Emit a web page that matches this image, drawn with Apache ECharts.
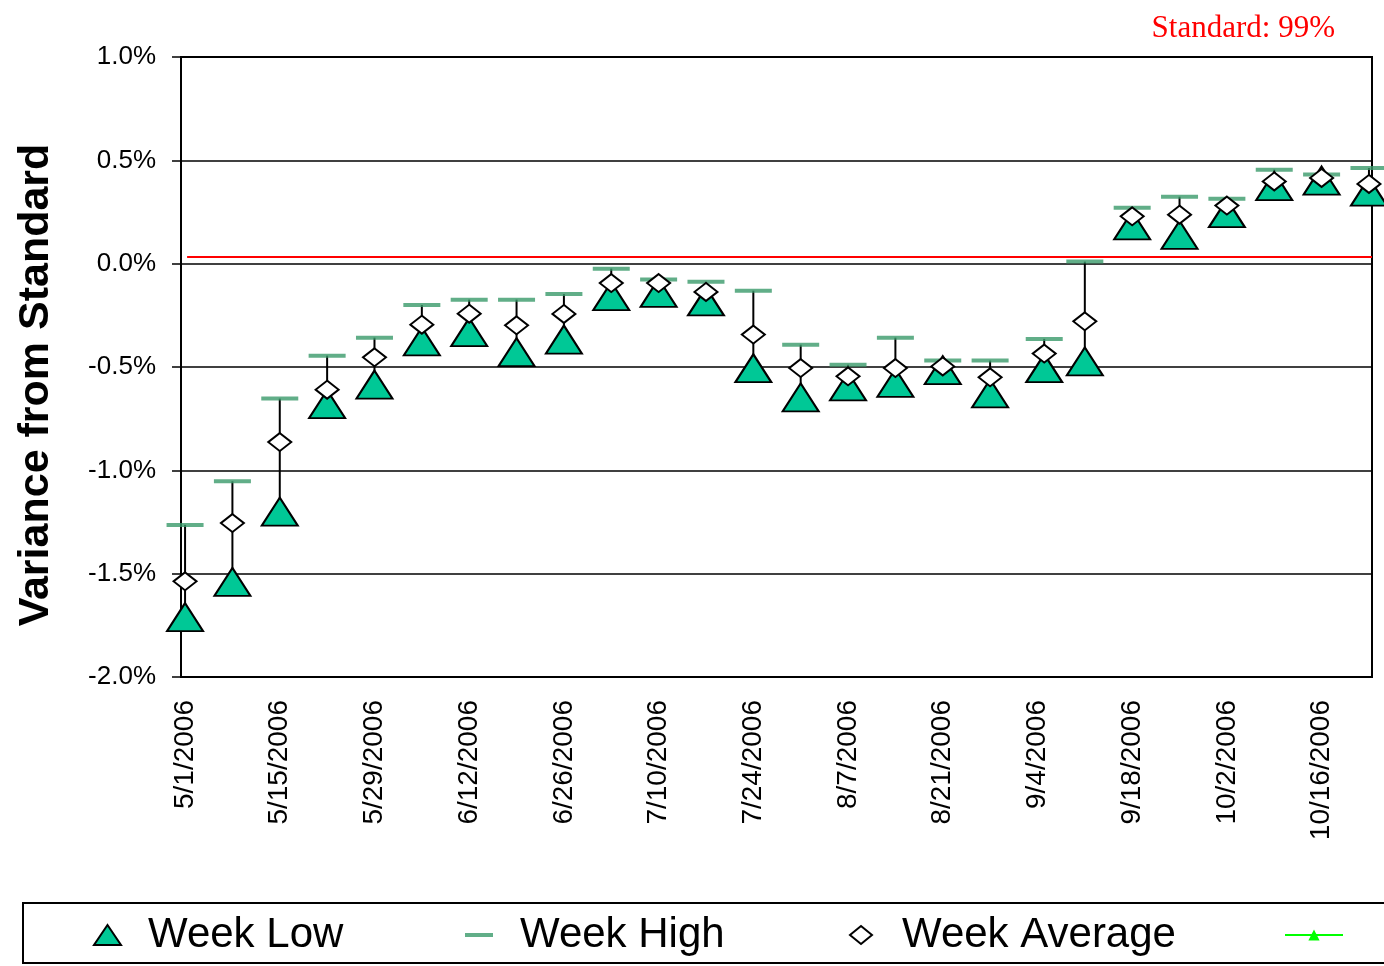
<!DOCTYPE html>
<html>
<head>
<meta charset="utf-8">
<script src="https://cdn.jsdelivr.net/npm/echarts@6/dist/echarts.min.js"></script>
<style>
  html, body { margin: 0; padding: 0; background: #fff; }
  #chart { width: 1384px; height: 966px; }
</style>
</head>
<body>
<div id="chart"></div>
<script>
// days since 5/1/2006 for each weekly reading
const days = [0, 7, 14, 21, 28, 35, 42, 49, 56, 63, 70, 77, 84, 91, 98, 105, 112, 119, 127, 133, 140, 147, 154, 161, 168, 175];
// values in percent
const weekLow = [-1.71, -1.54, -1.20, -0.68, -0.585, -0.376, -0.331, -0.428, -0.367, -0.157, -0.141, -0.183, -0.506,
  -0.647, -0.594, -0.577, -0.515, -0.628, -0.506, -0.473, 0.185, 0.139, 0.244, 0.375, 0.402, 0.349];
const weekHigh = [-1.264, -1.053, -0.653, -0.445, -0.358, -0.200, -0.174, -0.174, -0.147, -0.024, -0.077, -0.087, -0.131,
  -0.392, -0.489, -0.358, -0.469, -0.469, -0.364, 0.010, 0.271, 0.324, 0.314, 0.455, 0.431, 0.463];
const weekAvg = [-1.537, -1.255, -0.863, -0.610, -0.453, -0.295, -0.242, -0.298, -0.243, -0.094, -0.094, -0.137, -0.343,
  -0.505, -0.545, -0.505, -0.497, -0.550, -0.435, -0.279, 0.229, 0.237, 0.281, 0.398, 0.415, 0.386];
const standardLevel = 0.035;
// x tick labels
const tickDays = [0, 14, 28, 42, 56, 70, 84, 98, 112, 126, 140, 154, 168];
const tickLabels = ['5/1/2006', '5/15/2006', '5/29/2006', '6/12/2006', '6/26/2006', '7/10/2006', '7/24/2006',
  '8/7/2006', '8/21/2006', '9/4/2006', '9/18/2006', '10/2/2006', '10/16/2006'];

const sans = 'Liberation Sans, Arial, sans-serif';
const lowColor = '#00c896';
const highColor = '#3a9a6a';

const chart = echarts.init(document.getElementById('chart'));

const legendText = { fontFamily: sans, fontSize: 42, color: '#000' };

chart.setOption({
  animation: false,
  title: {
    text: 'Standard: 99%',
    right: 44,
    top: 8,
    textStyle: { fontFamily: 'Liberation Serif, Times New Roman, serif', fontSize: 31, fontWeight: 'normal', color: '#ff0000' }
  },
  graphic: [
    {
      type: 'text', x: 36, y: 385, rotation: Math.PI / 2,
      style: { text: 'Variance from Standard', font: 'bold 43px ' + sans, fill: '#000', align: 'center', verticalAlign: 'middle' }
    },
    {
      type: 'rect', shape: { x: 23, y: 903, width: 1400, height: 60 },
      style: { fill: 'none', stroke: '#000', lineWidth: 2 }
    }
  ],
  legend: [
    { data: ['Week Low'], left: 93, top: 914, padding: 0, itemWidth: 27, itemHeight: 20, symbolKeepAspect: false,
      textStyle: Object.assign({ padding: [0, 0, 0, 22] }, legendText) },
    { data: ['Week High'], left: 465, top: 914, padding: 0, itemWidth: 28, itemHeight: 4, symbolKeepAspect: false,
      textStyle: Object.assign({ padding: [0, 0, 0, 22] }, legendText) },
    { data: ['Week Average'], left: 849, top: 914, padding: 0, itemWidth: 22, itemHeight: 18, symbolKeepAspect: false,
      textStyle: Object.assign({ padding: [0, 0, 0, 25] }, legendText) },
    { data: ['Standard'], left: 1284, top: 914, padding: 0, itemWidth: 58, itemHeight: 14,
      textStyle: Object.assign({ padding: [0, 0, 0, 80] }, legendText) }
  ],
  grid: {
    left: 181, right: 12, top: 57, bottom: 289,
    show: true, borderColor: '#000', borderWidth: 2, backgroundColor: '#fff'
  },
  xAxis: {
    type: 'value',
    min: -0.6,
    max: 175.45,
    splitLine: { show: false },
    axisTick: { show: false },
    axisLine: { show: true, onZero: false, lineStyle: { color: '#000', width: 2 } },
    axisLabel: {
      customValues: tickDays,
      rotate: 90,
      margin: 23,
      fontFamily: sans,
      fontSize: 28,
      color: '#000',
      formatter: function (v) {
        const i = tickDays.indexOf(v);
        return i >= 0 ? tickLabels[i] : '';
      }
    }
  },
  yAxis: {
    type: 'value',
    min: -2,
    max: 1,
    interval: 0.5,
    axisLine: { show: true, onZero: false, lineStyle: { color: '#000', width: 2 } },
    axisTick: { show: true, inside: false, length: 9, lineStyle: { color: '#000', width: 1.5 } },
    splitLine: { show: true, lineStyle: { color: '#000', width: 1.5 } },
    axisLabel: {
      margin: 25,
      fontFamily: sans,
      fontSize: 26,
      color: '#000',
      formatter: function (v) { return v.toFixed(1) + '%'; }
    }
  },
  series: [
    {
      name: 'range',
      type: 'custom',
      z: 1,
      clip: false,
      data: days.map(function (d, i) { return [d, weekLow[i], weekHigh[i]]; }),
      encode: { x: 0, y: [1, 2] },
      renderItem: function (params, api) {
        const top = api.coord([api.value(0), api.value(2)]);
        const bot = api.coord([api.value(0), api.value(1)]);
        return {
          type: 'line',
          shape: { x1: top[0], y1: top[1], x2: bot[0], y2: bot[1] },
          style: { stroke: '#000', lineWidth: 2 }
        };
      }
    },
    {
      name: 'Week High',
      type: 'scatter',
      z: 2,
      clip: false,
      symbol: 'rect',
      symbolSize: [37, 4],
      itemStyle: { color: highColor },
      data: days.map(function (d, i) { return [d, weekHigh[i]]; })
    },
    {
      name: 'Week Low',
      type: 'scatter',
      z: 3,
      clip: false,
      symbol: 'triangle',
      symbolSize: [36, 28],
      itemStyle: { color: lowColor, borderColor: '#000', borderWidth: 2, opacity: 1 },
      data: days.map(function (d, i) { return [d, weekLow[i]]; }),
      markLine: {
        silent: true,
        symbol: 'none',
        label: { show: false },
        lineStyle: { color: '#ff0000', width: 2, type: 'solid' },
        data: [[{ coord: [0.3, standardLevel] }, { coord: [175.45, standardLevel] }]]
      }
    },
    {
      name: 'Week Average',
      type: 'scatter',
      z: 4,
      clip: false,
      symbol: 'diamond',
      symbolSize: [23, 18],
      itemStyle: { color: '#fff', borderColor: '#000', borderWidth: 2, opacity: 1 },
      data: days.map(function (d, i) { return [d, weekAvg[i]]; })
    },
    {
      name: 'Standard',
      type: 'line',
      symbol: 'triangle',
      symbolSize: 12,
      itemStyle: { color: '#00ff00' },
      lineStyle: { color: '#00ff00', width: 2 },
      data: []
    }
  ]
});
</script>
</body>
</html>
